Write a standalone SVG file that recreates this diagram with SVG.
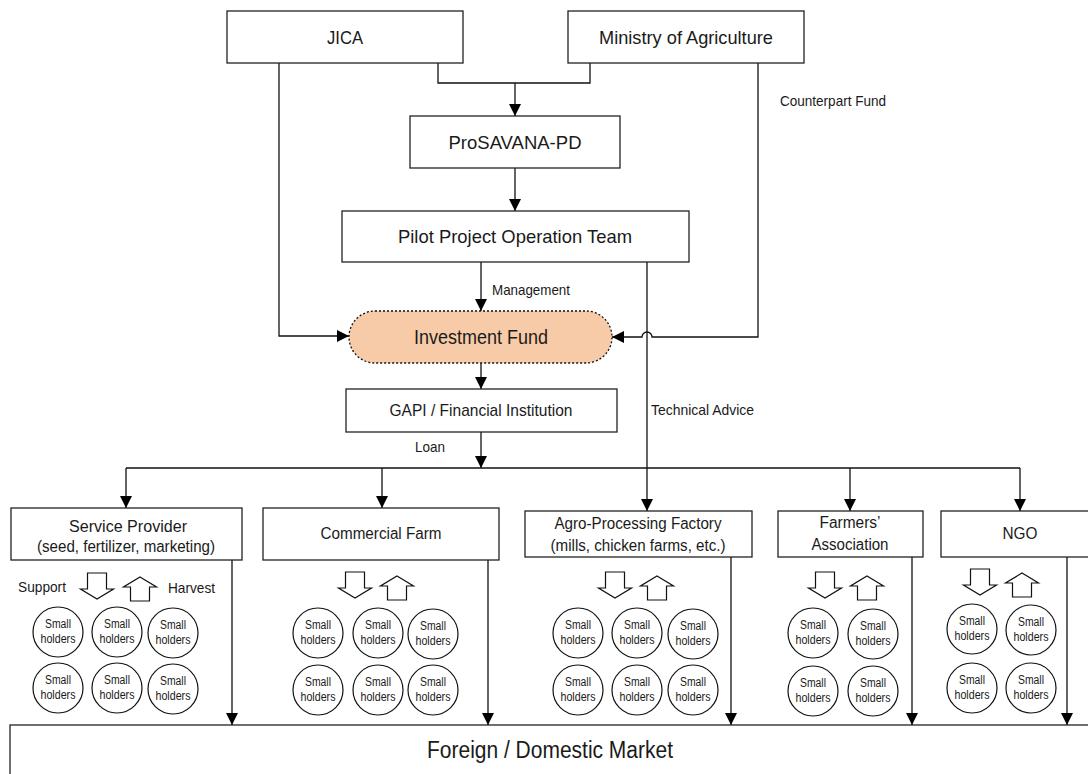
<svg xmlns="http://www.w3.org/2000/svg" xmlns:xlink="http://www.w3.org/1999/xlink" width="1088" height="774" viewBox="0 0 1088 774">
<style>
text{font-family:"Liberation Sans Narrow","Liberation Sans",Arial,sans-serif;fill:#1a1a1a}
.box{fill:#fff;stroke:#222;stroke-width:1.3}
.ln{fill:none;stroke:#111;stroke-width:1.3}
.arw{marker-end:url(#ah)}
.t19{font-size:19px;text-anchor:middle}
.t17{font-size:17px;text-anchor:middle}
.t16{font-size:16px;text-anchor:middle}
.lb{font-size:15px}
.sh{font-size:12px;text-anchor:middle}
.cir{fill:#fff;stroke:#111;stroke-width:1.2}
.blk{fill:#fff;stroke:#111;stroke-width:1.2}
</style>
<defs>
<marker id="ah" markerUnits="userSpaceOnUse" markerWidth="12" markerHeight="12" viewBox="0 0 11 11" refX="11" refY="5.5" orient="auto">
<path d="M0,0 L11,5.5 L0,11 Z" fill="#000"/>
</marker>
<path id="down" d="M-9.5,0 H9.5 V16 H16.5 L0,26 L-16.5,16 H-9.5 Z"/>
<path id="up" d="M0,0 L16.5,10 H9.5 V24 H-9.5 V10 H-16.5 Z"/>
<g id="sh"><circle class="cir" r="25"/><text class="sh" y="-4" textLength="26" lengthAdjust="spacingAndGlyphs">Small</text><text class="sh" y="11" textLength="35" lengthAdjust="spacingAndGlyphs">holders</text></g>
</defs>
<rect width="1088" height="774" fill="#fff"/>

<g id="connectors">
<path class="ln arw" d="M279,63 V336 H349"/>
<path class="ln" d="M438,63 V83 H590 V63"/>
<path class="ln arw" d="M515,83 V116"/>
<path class="ln arw" d="M515,168 V211"/>
<path class="ln arw" d="M481,262 V311"/>
<path class="ln arw" d="M758,63 V337 H652 A5,5 0 0 0 642,337 H612"/>
<path class="ln arw" d="M647,262 V511"/>
<path class="ln arw" d="M481,363 V389"/>
<path class="ln arw" d="M481,432 V468"/>
<path class="ln" d="M126,468 H1020"/>
<path class="ln arw" d="M126,468 V508"/>
<path class="ln arw" d="M382,468 V508"/>
<path class="ln arw" d="M850,468 V511"/>
<path class="ln arw" d="M1020,468 V511"/>
<path class="ln arw" d="M232,560 V725"/>
<path class="ln arw" d="M488,560 V725"/>
<path class="ln arw" d="M731,557 V725"/>
<path class="ln arw" d="M912,557 V725"/>
<path class="ln arw" d="M1067,557 V725"/>
<text class="lb" x="492" y="295" textLength="78" lengthAdjust="spacingAndGlyphs">Management</text>
<text class="lb" x="651" y="415" textLength="103" lengthAdjust="spacingAndGlyphs">Technical Advice</text>
<text class="lb" x="415" y="452" textLength="30" lengthAdjust="spacingAndGlyphs">Loan</text>
<text class="lb" x="780" y="106" textLength="106" lengthAdjust="spacingAndGlyphs">Counterpart Fund</text>
</g>

<g id="jica"><rect class="box" x="227" y="11" width="236" height="52"/><text class="t19" x="345" y="44" textLength="36" lengthAdjust="spacingAndGlyphs">JICA</text></g>
<g id="ministry"><rect class="box" x="568" y="11" width="236" height="52"/><text class="t19" x="686" y="44" textLength="174" lengthAdjust="spacingAndGlyphs">Ministry of Agriculture</text></g>
<g id="prosavana"><rect class="box" x="410" y="116" width="210" height="52"/><text class="t19" x="515" y="149" textLength="133" lengthAdjust="spacingAndGlyphs">ProSAVANA-PD</text></g>
<g id="pilot"><rect class="box" x="342" y="211" width="347" height="51"/><text class="t19" x="515" y="243" textLength="234" lengthAdjust="spacingAndGlyphs">Pilot Project Operation Team</text></g>
<g id="investment"><rect x="349" y="311" width="263" height="52" rx="26" ry="26" fill="#F8CBA8" stroke="#111" stroke-width="1.3" stroke-dasharray="2,2"/><text x="481" y="344" font-size="20" text-anchor="middle" textLength="134" lengthAdjust="spacingAndGlyphs">Investment Fund</text></g>
<g id="gapi"><rect class="box" x="346" y="389" width="271" height="43"/><text class="t17" x="481" y="416" textLength="183" lengthAdjust="spacingAndGlyphs">GAPI / Financial Institution</text></g>

<g id="service"><rect class="box" x="11" y="508" width="231" height="52"/><text class="t16" x="128" y="532" textLength="118" lengthAdjust="spacingAndGlyphs">Service Provider</text><text class="t16" x="126" y="552" textLength="178" lengthAdjust="spacingAndGlyphs">(seed, fertilizer, marketing)</text></g>
<g id="commercial"><rect class="box" x="263" y="508" width="236" height="52"/><text class="t16" x="381" y="539" textLength="121" lengthAdjust="spacingAndGlyphs">Commercial Farm</text></g>
<g id="agro"><rect class="box" x="525" y="511" width="227" height="46"/><text class="t16" x="638" y="529" textLength="167" lengthAdjust="spacingAndGlyphs">Agro-Processing Factory</text><text class="t16" x="638" y="551" textLength="175" lengthAdjust="spacingAndGlyphs">(mills, chicken farms, etc.)</text></g>
<g id="farmers"><rect class="box" x="778" y="511" width="145" height="46"/><text class="t16" x="850" y="528" textLength="61" lengthAdjust="spacingAndGlyphs">Farmers’</text><text class="t16" x="850" y="550" textLength="77" lengthAdjust="spacingAndGlyphs">Association</text></g>
<g id="ngo"><rect class="box" x="941" y="511" width="160" height="46"/><text class="t16" x="1020" y="539" textLength="35" lengthAdjust="spacingAndGlyphs">NGO</text></g>

<g id="market"><rect class="box" x="10" y="725" width="1090" height="60"/><text x="550" y="758" font-size="23" text-anchor="middle" textLength="246" lengthAdjust="spacingAndGlyphs">Foreign / Domestic Market</text></g>

<g id="flow-arrows">
<text class="lb" x="18" y="592" textLength="48" lengthAdjust="spacingAndGlyphs">Support</text>
<text class="lb" x="168" y="593" textLength="47" lengthAdjust="spacingAndGlyphs">Harvest</text>
<use href="#down" class="blk" x="97" y="573"/><use href="#up" class="blk" x="140" y="577"/>
<use href="#down" class="blk" x="355" y="572"/><use href="#up" class="blk" x="397" y="576"/>
<use href="#down" class="blk" x="615" y="572"/><use href="#up" class="blk" x="657" y="576"/>
<use href="#down" class="blk" x="825" y="572"/><use href="#up" class="blk" x="867" y="576"/>
<use href="#down" class="blk" x="980" y="569"/><use href="#up" class="blk" x="1022" y="573"/>
</g>

<g id="sh-service-1"><use href="#sh" x="58" y="632"/></g>
<g id="sh-service-2"><use href="#sh" x="117" y="632"/></g>
<g id="sh-service-3"><use href="#sh" x="173" y="633"/></g>
<g id="sh-service-4"><use href="#sh" x="58" y="688"/></g>
<g id="sh-service-5"><use href="#sh" x="117" y="688"/></g>
<g id="sh-service-6"><use href="#sh" x="173" y="689"/></g>
<g id="sh-commercial-1"><use href="#sh" x="318" y="633"/></g>
<g id="sh-commercial-2"><use href="#sh" x="378" y="633"/></g>
<g id="sh-commercial-3"><use href="#sh" x="433" y="634"/></g>
<g id="sh-commercial-4"><use href="#sh" x="318" y="690"/></g>
<g id="sh-commercial-5"><use href="#sh" x="378" y="690"/></g>
<g id="sh-commercial-6"><use href="#sh" x="433" y="690"/></g>
<g id="sh-agro-1"><use href="#sh" x="578" y="633"/></g>
<g id="sh-agro-2"><use href="#sh" x="637" y="633"/></g>
<g id="sh-agro-3"><use href="#sh" x="693" y="634"/></g>
<g id="sh-agro-4"><use href="#sh" x="578" y="690"/></g>
<g id="sh-agro-5"><use href="#sh" x="637" y="690"/></g>
<g id="sh-agro-6"><use href="#sh" x="693" y="690"/></g>
<g id="sh-farmers-1"><use href="#sh" x="813" y="633"/></g>
<g id="sh-farmers-2"><use href="#sh" x="873" y="634"/></g>
<g id="sh-farmers-3"><use href="#sh" x="813" y="691"/></g>
<g id="sh-farmers-4"><use href="#sh" x="873" y="691"/></g>
<g id="sh-ngo-1"><use href="#sh" x="972" y="629"/></g>
<g id="sh-ngo-2"><use href="#sh" x="1031" y="630"/></g>
<g id="sh-ngo-3"><use href="#sh" x="972" y="688"/></g>
<g id="sh-ngo-4"><use href="#sh" x="1031" y="688"/></g>
</svg>
